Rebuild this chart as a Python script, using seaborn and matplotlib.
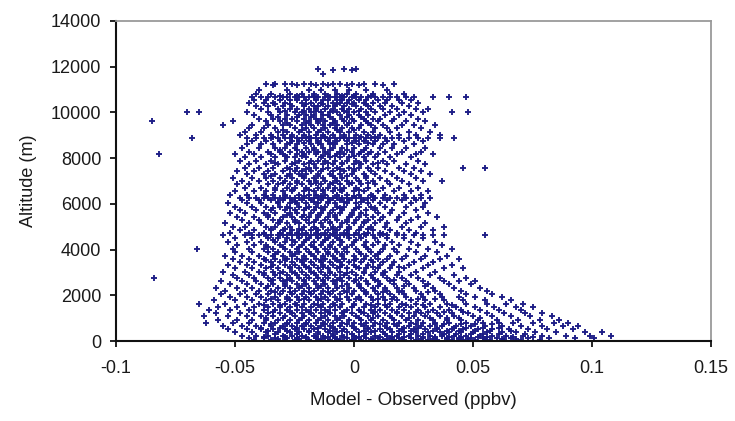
import matplotlib
matplotlib.use("Agg")
import matplotlib.pyplot as plt
import seaborn as sns
import pandas as pd

# Altitude levels (m) and model-observed differences at each level (in 1e-3 ppbv)
altitude_levels = [
    11920, 11840, 11700, 11260, 11180, 10980, 10820, 10660, 10560, 10430,
    10300, 10140, 10010, 9880, 9720, 9610, 9450, 9300, 9150, 9000,
    8860, 8760, 8600, 8450, 8290, 8180, 8030, 7880, 7730, 7590,
    7450, 7300, 7150, 7000, 6850, 6700, 6550, 6400, 6260, 6160,
    6020, 5870, 5720, 5580, 5430, 5290, 5150, 5000, 4860, 4730,
    4620, 4500, 4350, 4200, 4020, 3880, 3740, 3600, 3460, 3320,
    3180, 3040, 2900, 2760, 2620, 2480, 2340, 2200, 2060, 1920,
    1780, 1640, 1500, 1360, 1220, 1080, 940, 800, 660, 520,
    380, 240, 110, 30,
    10720, 10380, 10070, 9790, 9530, 9230, 8930, 8680, 8370, 8100,
    7800, 7520, 7220, 6920, 6620, 6330, 6090, 5800, 5500, 5220,
    4920, 4660, 4420, 4110, 3810, 3530, 3250, 2970, 2690, 2410,
    2130, 1850, 1570, 1290, 1010, 730, 590, 450, 310, 170, 70,
]

diff_by_level = [
    [-15, -4, 1],
    [-9, -1],
    [-13],
    [-37, -33, -29, -26, -21, -18, -13, -9, -6, -1, 4, 9, 17],
    [-34, -24, -16, -11, -3, 2, 12],
    [-40, -28, -19, -14, -8, -2, 5, 14],
    [-41, -35, -27, -22, -17, -12, -7, -3, 1, 8, 15, 21],
    [-43, -39, -36, -33, -30, -28, -25, -23, -21, -19, -17, -15, -12, -10, -8, -6, -4, -1, 1, 3, 6, 9, 12, 15, 18, 22, 25, 33, 40, 47],
    [-42, -37, -31, -27, -24, -20, -16, -13, -11, -7, -5, -2, 2, 5, 10, 14, 19, 24],
    [-44, -38, -34, -29, -22, -18, -14, -9, -6, -3, 0, 4, 8, 13, 20, 27],
    [-41, -36, -30, -26, -21, -17, -15, -11, -8, -4, 1, 6, 11, 16, 23],
    [-39, -32, -27, -24, -19, -16, -12, -9, -5, -2, 3, 7, 12, 18, 26, 31],
    [-70, -65, -45, -36, -31, -25, -22, -18, -14, -10, -7, -3, 0, 5, 9, 15, 21, 29, 41, 48],
    [-42, -35, -28, -23, -20, -17, -13, -11, -6, -2, 2, 6, 13, 19, 24],
    [-40, -34, -29, -26, -21, -16, -14, -9, -5, -1, 4, 8, 11, 17, 27],
    [-85, -51, -37, -31, -24, -19, -15, -12, -8, -4, 0, 5, 10, 16, 22, 30],
    [-55, -43, -36, -30, -27, -22, -18, -13, -10, -7, -3, 3, 7, 12, 20, 25, 34],
    [-44, -38, -33, -25, -20, -17, -12, -8, -5, -1, 2, 9, 14, 18, 28],
    [-46, -39, -32, -28, -23, -19, -15, -11, -6, -2, 4, 8, 15, 23, 32],
    [-48, -41, -35, -30, -26, -21, -16, -13, -9, -4, 1, 6, 11, 19, 26, 36],
    [-68, -45, -41, -38, -35, -32, -29, -27, -24, -22, -20, -18, -16, -14, -12, -10, -8, -6, -4, -2, 0, 2, 5, 7, 10, 13, 16, 19, 23, 27, 31, 36, 42],
    [-43, -37, -31, -26, -23, -19, -15, -11, -7, -3, 1, 4, 9, 14, 21, 29],
    [-45, -39, -34, -28, -24, -18, -14, -10, -8, -3, 2, 8, 12, 17, 25],
    [-47, -40, -33, -29, -25, -20, -17, -13, -9, -5, 0, 5, 11, 16, 22, 30],
    [-44, -36, -31, -27, -22, -19, -15, -12, -6, -1, 3, 7, 13, 20, 28],
    [-82, -50, -42, -35, -30, -24, -21, -16, -11, -7, -4, 2, 6, 10, 18, 26, 33],
    [-46, -39, -33, -28, -25, -20, -14, -10, -6, -2, 4, 9, 15, 24],
    [-48, -41, -35, -29, -23, -18, -15, -12, -8, -3, 1, 5, 12, 17, 27],
    [-44, -37, -32, -26, -21, -17, -13, -9, -5, 0, 3, 8, 14, 22, 30],
    [-46, -40, -34, -28, -24, -19, -16, -11, -7, -2, 2, 6, 10, 19, 25, 46, 55],
    [-49, -42, -36, -30, -25, -22, -18, -14, -9, -4, 0, 7, 13, 21, 28],
    [-45, -38, -33, -27, -23, -20, -15, -10, -6, -1, 4, 9, 16, 24, 32],
    [-51, -43, -37, -31, -26, -21, -17, -13, -8, -5, 1, 5, 11, 18, 26],
    [-47, -40, -34, -29, -24, -19, -16, -12, -7, -3, 2, 8, 14, 20, 29, 37],
    [-49, -44, -36, -32, -27, -22, -18, -14, -10, -6, -2, 3, 9, 15, 23],
    [-46, -39, -33, -28, -25, -20, -15, -11, -8, -4, 1, 6, 12, 19, 27],
    [-50, -42, -37, -30, -26, -21, -17, -13, -9, -5, 0, 4, 10, 17, 24, 31],
    [-52, -45, -38, -34, -29, -23, -19, -16, -12, -7, -3, 2, 7, 13, 21, 28],
    [-48, -44, -41, -38, -36, -33, -31, -29, -27, -25, -23, -21, -19, -17, -15, -13, -11, -9, -7, -5, -3, -1, 1, 3, 6, 9, 12, 15, 18, 22, 25, 28, 32],
    [-47, -40, -35, -30, -26, -22, -18, -14, -10, -6, -2, 4, 8, 14, 20, 26],
    [-53, -45, -39, -32, -27, -24, -20, -15, -11, -8, -3, 1, 6, 11, 17, 24, 30],
    [-50, -43, -37, -31, -28, -23, -19, -16, -12, -7, -4, 2, 7, 13, 22, 29],
    [-48, -41, -35, -29, -25, -21, -17, -13, -9, -5, 0, 5, 9, 16, 26],
    [-52, -46, -38, -33, -27, -24, -18, -14, -10, -6, -1, 3, 10, 15, 21, 31],
    [-49, -42, -36, -30, -26, -22, -19, -15, -11, -8, -2, 2, 8, 12, 19, 27, 35],
    [-47, -40, -34, -31, -25, -20, -16, -12, -7, -3, 1, 6, 11, 18, 24],
    [-54, -44, -39, -32, -28, -23, -19, -14, -10, -5, 0, 4, 9, 14, 22, 30],
    [-51, -46, -37, -33, -27, -21, -17, -13, -9, -6, -2, 3, 7, 13, 20, 28, 38],
    [-48, -42, -35, -30, -26, -22, -18, -15, -11, -7, -3, 2, 8, 15, 23, 33],
    [-52, -44, -38, -31, -27, -24, -20, -16, -12, -8, -4, 1, 6, 11, 18, 26],
    [-55, -46, -43, -40, -37, -35, -32, -30, -28, -26, -24, -22, -20, -18, -16, -14, -12, -10, -8, -6, -4, -2, 0, 2, 5, 8, 11, 14, 18, 21, 25, 29, 33, 38, 55],
    [-50, -43, -36, -32, -28, -23, -19, -15, -11, -7, -2, 3, 9, 14, 21, 29],
    [-53, -45, -39, -33, -29, -25, -21, -17, -13, -9, -5, 0, 5, 10, 16, 24, 34],
    [-49, -42, -37, -31, -26, -22, -18, -14, -10, -6, -1, 4, 8, 13, 19, 27, 37],
    [-66, -51, -44, -38, -34, -29, -24, -20, -16, -12, -8, -4, 1, 6, 12, 17, 23, 31, 41],
    [-50, -43, -36, -32, -27, -23, -19, -15, -11, -7, -3, 2, 7, 11, 18, 26, 35],
    [-54, -47, -40, -34, -30, -26, -21, -17, -13, -9, -5, 0, 5, 9, 15, 22, 30, 39],
    [-51, -44, -38, -33, -28, -24, -20, -16, -12, -8, -4, 1, 4, 10, 14, 20, 28, 36, 44],
    [-48, -42, -35, -31, -26, -22, -18, -14, -10, -6, -2, 3, 8, 12, 17, 25, 33],
    [-53, -45, -39, -34, -29, -25, -21, -17, -13, -9, -5, 0, 6, 11, 16, 23, 31, 41],
    [-50, -43, -37, -32, -27, -23, -19, -15, -11, -7, -3, 2, 5, 10, 15, 21, 29, 38, 46],
    [-55, -46, -40, -34, -30, -26, -22, -18, -14, -10, -6, -1, 4, 9, 13, 19, 26, 34],
    [-51, -44, -38, -33, -28, -24, -20, -16, -12, -8, -4, 1, 7, 12, 18, 24, 32, 42],
    [-84, -49, -42, -36, -31, -27, -23, -19, -15, -11, -6, -2, 3, 8, 14, 20, 27, 36, 47],
    [-56, -47, -41, -35, -30, -26, -21, -17, -13, -9, -5, 0, 5, 10, 15, 22, 29, 38, 44, 51],
    [-52, -45, -39, -34, -29, -24, -20, -16, -12, -8, -3, 2, 6, 11, 17, 23, 31, 40, 49],
    [-58, -49, -43, -37, -32, -27, -23, -19, -15, -11, -7, -2, 3, 8, 13, 18, 25, 33, 42, 53],
    [-54, -46, -40, -35, -30, -25, -21, -17, -13, -9, -4, 0, 4, 9, 14, 20, 26, 34, 45, 56],
    [-56, -48, -41, -36, -31, -26, -22, -18, -14, -10, -6, -1, 5, 10, 15, 21, 28, 36, 47, 58],
    [-52, -45, -39, -33, -28, -24, -20, -16, -12, -8, -3, 2, 7, 12, 17, 22, 29, 37, 44, 51, 62],
    [-59, -50, -43, -37, -32, -27, -23, -19, -15, -11, -7, -2, 3, 8, 13, 18, 24, 30, 38, 46, 55, 66],
    [-65, -54, -46, -40, -34, -29, -25, -21, -17, -13, -9, -5, 0, 5, 10, 15, 20, 26, 32, 39, 47, 56, 64, 71],
    [-57, -49, -42, -36, -31, -27, -22, -18, -14, -10, -6, -1, 4, 9, 14, 19, 24, 30, 36, 43, 51, 59, 68, 75],
    [-61, -52, -44, -38, -33, -28, -24, -20, -16, -12, -8, -3, 2, 7, 11, 16, 21, 27, 33, 40, 45, 53, 61, 70],
    [-58, -48, -42, -36, -31, -26, -22, -18, -14, -10, -5, -1, 4, 8, 13, 18, 23, 28, 35, 41, 48, 56, 63, 72, 79],
    [-63, -53, -45, -39, -34, -29, -25, -21, -17, -12, -8, -4, 1, 6, 10, 15, 20, 25, 30, 36, 42, 50, 58, 66, 74, 83],
    [-57, -49, -43, -37, -32, -27, -23, -19, -15, -11, -7, -2, 3, 7, 12, 17, 22, 27, 33, 39, 45, 52, 60, 69, 78, 86],
    [-62, -51, -44, -38, -33, -28, -24, -20, -16, -13, -9, -5, 0, 5, 9, 14, 19, 24, 29, 34, 40, 47, 54, 61, 67, 75, 84, 90],
    [-55, -47, -41, -35, -30, -26, -22, -18, -14, -10, -6, -1, 4, 8, 13, 18, 23, 28, 32, 37, 43, 49, 55, 62, 70, 79, 88, 94],
    [-53, -45, -39, -34, -29, -25, -21, -17, -12, -8, -4, 1, 6, 11, 15, 20, 25, 30, 35, 41, 46, 52, 58, 65, 73, 81, 92],
    [-50, -43, -37, -32, -27, -23, -19, -15, -11, -7, -3, 2, 7, 12, 16, 21, 26, 31, 36, 40, 45, 50, 56, 62, 68, 76, 85, 97, 104],
    [-47, -41, -36, -30, -26, -22, -17, -13, -9, -5, 0, 4, 9, 14, 18, 23, 27, 32, 37, 42, 47, 53, 58, 64, 71, 79, 89, 99, 108],
    [-44, -38, -33, -28, -24, -20, -16, -12, -8, -3, 1, 5, 10, 15, 19, 24, 29, 34, 39, 44, 49, 54, 60, 66, 73, 82, 93, 101],
    [-42, -35, -29, -25, -19, -14, -10, -6, -1, 3, 8, 12, 17, 21, 26, 31, 35, 41, 46, 51, 57, 63, 70, 78],
    [-31, -24, -17, -11, -5, 0, 7],
    [-33, -27, -20, -13, -7, -1, 5],
    [-29, -21, -16, -9, -4, 2],
    [-32, -24, -18, -10, -3, 3],
    [-28, -20, -15, -9, -2, 6],
    [-30, -22, -14, -7, 0],
    [-34, -26, -19, -12, -4, 3, 9],
    [-27, -21, -15, -9, -1, 6],
    [-31, -24, -17, -10, -3, 4],
    [-29, -22, -13, -8, 0],
    [-33, -25, -19, -11, -5, 2, 10],
    [-27, -20, -13, -6, 0],
    [-35, -28, -22, -15, -9, -3, 5],
    [-30, -24, -16, -9, -1, 6],
    [-33, -26, -19, -13, -6, 2],
    [-37, -29, -21, -14, -7, 0, 8],
    [-32, -25, -17, -11, -4, 3],
    [-34, -27, -20, -14, -6, 1, 9],
    [-36, -28, -21, -15, -8, -1, 5],
    [-31, -25, -17, -10, -3, 4],
    [-35, -29, -23, -16, -9, -2, 6],
    [-38, -31, -23, -15, -9, -3, 4, 12],
    [-34, -26, -20, -12, -6, 1],
    [-36, -30, -23, -17, -10, -3, 5],
    [-33, -25, -18, -11, -5, 3, 10],
    [-37, -29, -22, -14, -7, 0, 7],
    [-35, -27, -20, -13, -6, 1, 8, 19],
    [-38, -31, -25, -17, -10, -3, 4, 12],
    [-34, -28, -21, -13, -7, 1, 9, 17],
    [-36, -29, -22, -14, -5, 2, 10, 21, 30],
    [-33, -27, -19, -11, -3, 5, 12, 19, 31],
    [-35, -28, -21, -14, -6, 1, 10, 16, 27, 34],
    [-38, -31, -24, -15, -8, 0, 7, 13, 22, 29, 41],
    [-34, -27, -19, -11, -4, 3, 9, 18, 26, 31, 38, 46],
    [-37, -30, -22, -14, -6, 2, 8, 16, 23, 32, 39, 44, 53],
    [-35, -28, -20, -12, -3, 3, 11, 17, 26, 34, 38, 45, 51, 58],
    [-39, -31, -24, -15, -9, 0, 6, 14, 21, 27, 35, 42, 47, 54, 61],
    [-36, -28, -19, -10, -5, 4, 9, 19, 24, 33, 39, 44, 51, 57, 66],
    [-33, -24, -15, -9, -1, 5, 13, 19, 24, 29, 38, 43, 49, 54, 61, 72],
    [-38, -29, -20, -11, -4, 2, 11, 16, 21, 29, 34, 40, 45, 52, 56, 67, 75],
    [-32, -23, -15, -7, 0, 7, 14, 20, 28, 33, 39, 44, 48, 55, 62, 68],
]

x_ticks = [-0.1, -0.05, 0, 0.05, 0.1, 0.15]
x_tick_labels = ["-0.1", "-0.05", "0", "0.05", "0.1", "0.15"]
y_ticks = [0, 2000, 4000, 6000, 8000, 10000, 12000, 14000]

rows = []
for alt, diffs in zip(altitude_levels, diff_by_level):
    for d in diffs:
        rows.append({"diff": d / 1000.0, "alt": alt})
df = pd.DataFrame(rows)

sns.set_style("white")
plt.rcParams["font.family"] = ["Liberation Sans", "DejaVu Sans"]

fig = plt.figure(figsize=(7.35, 4.21), dpi=100)
ax = fig.add_axes([116 / 735, 80 / 421, 595 / 735, 320 / 421])

sns.scatterplot(data=df, x="diff", y="alt", ax=ax, marker="+", s=18,
                color="#1c1c86", linewidth=1.35, legend=False)

ax.set_xlim(-0.1, 0.15)
ax.set_ylim(0, 14000)
ax.set_xticks(x_ticks)
ax.set_xticklabels(x_tick_labels)
ax.set_yticks(y_ticks)
ax.set_yticklabels([str(v) for v in y_ticks])

txt = "#1a1a1a"
ax.set_xlabel("Model - Observed (ppbv)", fontsize=13.5, color=txt, labelpad=11)
ax.set_ylabel("Altitude (m)", fontsize=13, color=txt, labelpad=10)
ax.tick_params(axis="both", direction="out", length=4.5, width=1.3,
               colors="#111111", labelsize=13, labelcolor=txt, pad=6)
ax.tick_params(axis="x", pad=9)
ax.tick_params(left=True, bottom=True)

for side in ["left", "bottom"]:
    ax.spines[side].set_color("#111111")
    ax.spines[side].set_linewidth(1.5)
for side in ["top", "right"]:
    ax.spines[side].set_color("#9a9a9a")
    ax.spines[side].set_linewidth(1.3)
    ax.spines[side].set_visible(True)

fig.savefig("out.png", dpi=100)
